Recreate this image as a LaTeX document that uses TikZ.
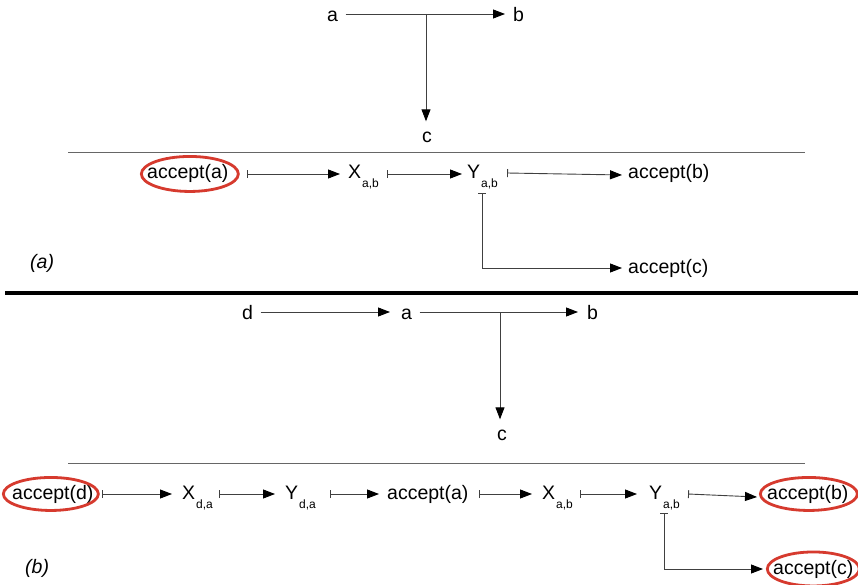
\documentclass[tikz,border=0pt]{standalone}
\usepackage{fontspec}
\setmainfont{Liberation Sans}
\usetikzlibrary{arrows.meta,calc}
\newcommand\sbx[1]{\kern1pt\raisebox{-9pt}{\fontsize{12}{12}\selectfont #1}}
\definecolor{hired}{HTML}{D63A2E}
\begin{document}
\begin{tikzpicture}[x=1pt,y=-1pt,
  lbl/.style={anchor=base west,inner sep=0pt,font=\fontsize{19.5}{22}\selectfont},
  partlbl/.style={anchor=base west,inner sep=0pt,font=\fontsize{19.5}{22}\selectfont\itshape},
  conn/.style={draw=black!75,line width=0.9pt,-{Triangle[length=12pt,width=9pt,color=black]}},
  bconn/.style={draw=black!75,line width=0.9pt,{Bar[width=8pt,color=black!75]}-{Triangle[length=12pt,width=9pt,color=black]}},
  rulegray/.style={draw=black!60,line width=1pt},
  rulethick/.style={draw=black,line width=4pt},
  hilite/.style={draw=hired,line width=2.8pt}]
\clip (0,0) rectangle (858,585);
\fill[white] (0,0) rectangle (858,585);

% ---------- part (a): graph ----------
\node[lbl] (ta) at (327,22) {a};
\node[lbl] (tb) at (513,22) {b};
\node[lbl] (tc) at (422,143) {c};
\coordinate (tj) at (426,14);
\draw[conn] ([xshift=7.4pt,yshift=8pt]ta.base east) -- ([xshift=-8pt,yshift=8pt]tb.base west);
\draw[conn] (tj) -- ($(tj |- tc.north)+(0,-11)$);

\draw[rulegray] (68,153) -- (805,153);

% ---------- part (a): automaton ----------
\node[lbl] (acca) at (147,179) {accept(a)};
\node[lbl] (xab) at (348,179) {X\sbx{a,b}};
\node[lbl] (yab) at (467,179) {Y\sbx{a,b}};
\node[lbl] (accb) at (628,179) {accept(b)};
\node[lbl] (accc) at (628,273) {accept(c)};
\node[partlbl] (capa) at (30,268) {(a)};
\draw[hilite] ([xshift=2pt]acca.center) ellipse [x radius=48.5pt, y radius=17.5pt];

\draw[bconn] ([xshift=18pt,yshift=5pt]acca.base east) -- ([xshift=-8pt,yshift=5pt]xab.base west);
\draw[bconn] ([xshift=8pt,yshift=5pt]xab.base east) -- ([xshift=-5pt,yshift=5pt]yab.base west);
\draw[bconn] ([xshift=9pt,yshift=6pt]yab.base east) -- ([xshift=-6pt,yshift=4pt]accb.base west);
\draw[bconn] ([xshift=15pt,yshift=-14pt]yab.base west) |- ([xshift=-6pt,yshift=5pt]accc.base west);

\draw[rulethick] (5,293) -- (858,293);

% ---------- part (b): graph ----------
\node[lbl] (bd) at (242,319) {d};
\node[lbl] (ba) at (401,319) {a};
\node[lbl] (bb) at (587,319) {b};
\node[lbl] (bc) at (497,440) {c};
\coordinate (bj) at (500,312);
\draw[conn] ([xshift=7.4pt,yshift=7pt]bd.base east) -- ([xshift=-11pt,yshift=7pt]ba.base west);
\draw[conn] ([xshift=7.4pt,yshift=7pt]ba.base east) -- ([xshift=-9pt,yshift=7pt]bb.base west);
\draw[conn] (bj) -- ($(bj |- bc.north)+(0,-10)$);

\draw[rulegray] (68,463) -- (805,463);

% ---------- part (b): automaton ----------
\node[lbl] (accd2) at (12,499) {accept(d)};
\node[lbl] (xda) at (182,499) {X\sbx{d,a}};
\node[lbl] (yda) at (285,499) {Y\sbx{d,a}};
\node[lbl] (acca2) at (387,499) {accept(a)};
\node[lbl] (xab2) at (542,499) {X\sbx{a,b}};
\node[lbl] (yab2) at (649,499) {Y\sbx{a,b}};
\node[lbl] (accb2) at (767,499) {accept(b)};
\node[lbl] (accc2) at (773,574) {accept(c)};
\node[partlbl] (capb) at (25,573) {(b)};
\draw[hilite] ([xshift=-2pt]accd2.center) ellipse [x radius=47.5pt, y radius=16.5pt];
\draw[hilite] ([xshift=1pt]accb2.center) ellipse [x radius=48.5pt, y radius=16.5pt];
\draw[hilite] (accc2.center) ellipse [x radius=46pt, y radius=17pt];

\draw[bconn] ([xshift=8pt,yshift=5pt]accd2.base east) -- ([xshift=-10pt,yshift=5pt]xda.base west);
\draw[bconn] ([xshift=6pt,yshift=5pt]xda.base east) -- ([xshift=-10pt,yshift=5pt]yda.base west);
\draw[bconn] ([xshift=14pt,yshift=5pt]yda.base east) -- ([xshift=-8pt,yshift=5pt]acca2.base west);
\draw[bconn] ([xshift=10pt,yshift=5pt]acca2.base east) -- ([xshift=-10pt,yshift=5pt]xab2.base west);
\draw[bconn] ([xshift=7pt,yshift=5pt]xab2.base east) -- ([xshift=-12pt,yshift=5pt]yab2.base west);
\draw[bconn] ([xshift=8pt,yshift=5pt]yab2.base east) -- ([xshift=-10pt,yshift=2pt]accb2.base west);
\draw[bconn] ([xshift=15pt,yshift=-14pt]yab2.base west) |- ([xshift=-10pt,yshift=5pt]accc2.base west);
\end{tikzpicture}
\end{document}
